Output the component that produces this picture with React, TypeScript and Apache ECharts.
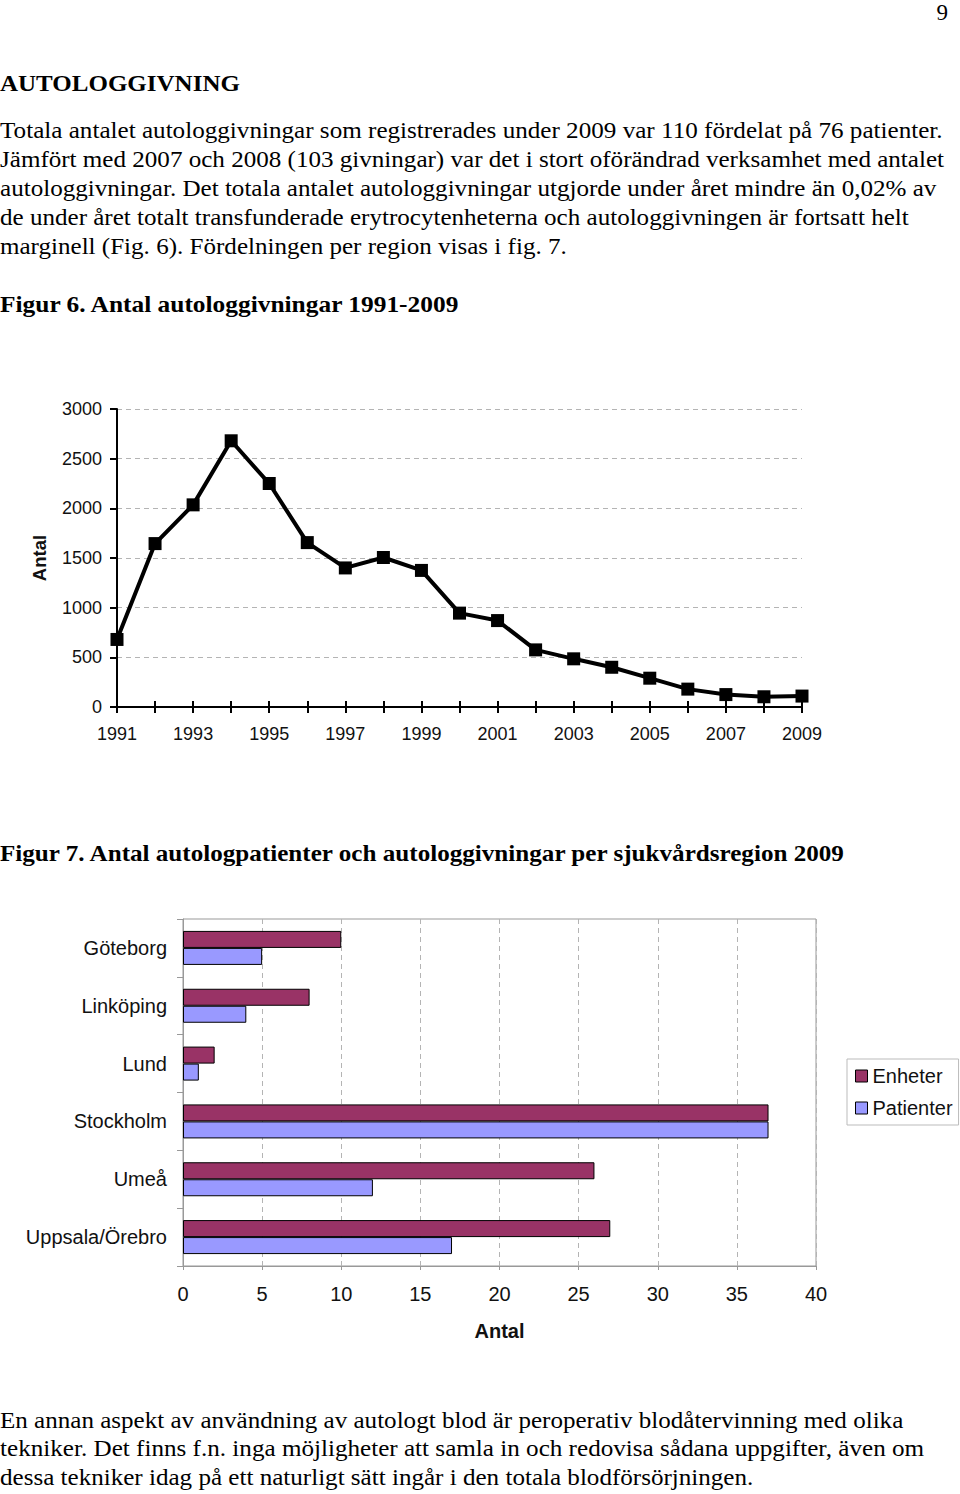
import { useEffect, useRef } from 'react';
import * as echarts from 'echarts';

const PAGE_W = 960;
const PAGE_H = 1494;

// Figur 6: antal autologgivningar per år
const years = [
  '1991', '1992', '1993', '1994', '1995', '1996', '1997', '1998', '1999', '2000',
  '2001', '2002', '2003', '2004', '2005', '2006', '2007', '2008', '2009',
];
const givningar = [
  680, 1645, 2035, 2680, 2250, 1655, 1400, 1505, 1375, 945,
  870, 575, 485, 400, 290, 180, 125, 103, 110,
];

// Figur 7: per sjukvårdsregion 2009
const regions = ['Göteborg', 'Linköping', 'Lund', 'Stockholm', 'Umeå', 'Uppsala/Örebro'];
const enheter = [10, 8, 2, 37, 26, 27];
const patienter = [5, 4, 1, 37, 12, 17];

const SERIF = "'Liberation Serif', 'Times New Roman', serif";
const SANS = "'Liberation Sans', Arial, sans-serif";

// page text: [text, centre y, width to fill, bold]
const pageLines: [string, number, number, boolean][] = [
  ['AUTOLOGGIVNING', 83, 240, true],
  ['Totala antalet autologgivningar som registrerades under 2009 var 110 fördelat på 76 patienter.', 130, 943, false],
  ['Jämfört med 2007 och 2008 (103 givningar) var det i stort oförändrad verksamhet med antalet', 159, 945, false],
  ['autologgivningar. Det totala antalet autologgivningar utgjorde under året mindre än 0,02% av', 188, 937, false],
  ['de under året totalt transfunderade erytrocytenheterna och autologgivningen är fortsatt helt', 217, 909, false],
  ['marginell (Fig. 6). Fördelningen per region visas i fig. 7.', 246, 567, false],
  ['Figur 6. Antal autologgivningar 1991-2009', 304, 461, true],
  ['Figur 7. Antal autologpatienter och autologgivningar per sjukvårdsregion 2009', 853, 847, true],
  ['En annan aspekt av användning av autologt blod är peroperativ blodåtervinning med olika', 1420, 904, false],
  ['tekniker. Det finns f.n. inga möjligheter att samla in och redovisa sådana uppgifter, även om', 1448, 925, false],
  ['dessa tekniker idag på ett naturligt sätt ingår i den totala blodförsörjningen.', 1477, 754, false],
];

function textWidth(text: string, font: string) {
  const ctx = document.createElement('canvas').getContext('2d');
  if (!ctx) return 1;
  ctx.font = font;
  return ctx.measureText(text).width || 1;
}

export default function App() {
  const chartRef = useRef<HTMLDivElement>(null);

  useEffect(() => {
    if (!chartRef.current) return;
    document.body.style.margin = '0';
    const chart = echarts.init(chartRef.current, null, { renderer: 'svg' });

    const fontSize = 23;
    const graphics: any[] = pageLines.map(([text, y, w, bold]) => {
      const weight = bold ? 'bold' : 'normal';
      const measured = textWidth(text, `${weight} ${fontSize}px ${SERIF}`);
      return {
        type: 'text',
        x: 0,
        y,
        scaleX: w / measured,
        style: {
          text,
          fontSize,
          fontFamily: SERIF,
          fontWeight: weight,
          fill: '#000',
          align: 'left',
          verticalAlign: 'middle',
        },
      };
    });
    graphics.push({
      type: 'text',
      x: 948,
      y: 12,
      style: { text: '9', fontSize, fontFamily: SERIF, fill: '#000', align: 'right', verticalAlign: 'middle' },
    });

    const dashed = { color: '#b4b4b4', width: 1, type: [5, 4] as number[] };

    const option: echarts.EChartsOption = {
      animation: false,
      backgroundColor: '#fff',
      textStyle: { fontFamily: SANS },
      graphic: graphics,
      grid: [
        { left: 117, right: PAGE_W - 802, top: 409, bottom: PAGE_H - 707 },
        {
          left: 183, right: PAGE_W - 816, top: 919, bottom: PAGE_H - 1266,
          show: true, borderColor: '#999', borderWidth: 1, backgroundColor: 'transparent',
        },
      ],
      legend: {
        data: ['Enheter', 'Patienter'],
        orient: 'vertical',
        left: 847,
        top: 1059,
        icon: 'rect',
        itemWidth: 12,
        itemHeight: 12,
        itemGap: 12,
        padding: [7, 6, 7, 8],
        borderColor: '#bbb',
        borderWidth: 1,
        textStyle: { fontSize: 20, color: '#111', fontFamily: SANS },
        itemStyle: { borderColor: '#000', borderWidth: 1 },
      },
      xAxis: [
        {
          type: 'category',
          gridIndex: 0,
          data: years,
          boundaryGap: false,
          position: 'bottom',
          axisLine: { lineStyle: { color: '#000', width: 2 } },
          axisTick: { show: true, interval: 0, length: 6, lineStyle: { color: '#000', width: 2 } },
          axisLabel: { interval: 1, fontSize: 18, color: '#111', margin: 18 },
          splitLine: { show: false },
        },
        {
          type: 'category',
          gridIndex: 0,
          data: years,
          boundaryGap: false,
          position: 'bottom',
          axisLine: { show: false },
          axisTick: { show: true, inside: true, interval: 0, length: 6, lineStyle: { color: '#000', width: 2 } },
          axisLabel: { show: false },
          splitLine: { show: false },
        },
        {
          type: 'value',
          gridIndex: 1,
          min: 0,
          max: 40,
          interval: 5,
          axisLine: { show: true, lineStyle: { color: '#999', width: 1 } },
          axisTick: { show: true, length: 4, lineStyle: { color: '#999' } },
          axisLabel: { fontSize: 20, color: '#111', margin: 18 },
          splitLine: { show: true, lineStyle: dashed },
          name: 'Antal',
          nameLocation: 'middle',
          nameGap: 55,
          nameTextStyle: { fontSize: 20, fontWeight: 'bold', color: '#111' },
        },
      ],
      yAxis: [
        {
          type: 'value',
          gridIndex: 0,
          min: 0,
          max: 3000,
          interval: 500,
          axisLine: { show: true, lineStyle: { color: '#000', width: 2 } },
          axisTick: { show: true, length: 7, lineStyle: { color: '#000', width: 2 } },
          axisLabel: { fontSize: 18, color: '#111', margin: 15, formatter: (v: number) => String(v) },
          splitLine: { show: true, lineStyle: dashed },
          name: 'Antal',
          nameLocation: 'middle',
          nameGap: 68,
          nameTextStyle: { fontSize: 18.5, fontWeight: 'bold', color: '#111' },
        },
        {
          type: 'category',
          gridIndex: 1,
          data: regions,
          inverse: true,
          axisLine: { show: true, lineStyle: { color: '#999', width: 1 } },
          axisTick: { show: true, length: 6, lineStyle: { color: '#999' } },
          axisLabel: { fontSize: 20, color: '#111', margin: 16 },
          splitLine: { show: false },
        },
      ],
      series: [
        {
          type: 'line',
          xAxisIndex: 0,
          yAxisIndex: 0,
          data: givningar,
          symbol: 'rect',
          symbolSize: 13,
          lineStyle: { color: '#000', width: 4 },
          itemStyle: { color: '#000' },
          z: 5,
        },
        {
          name: 'Enheter',
          type: 'bar',
          xAxisIndex: 2,
          yAxisIndex: 1,
          data: enheter,
          barWidth: 17,
          barGap: '0%',
          itemStyle: { color: '#993366', borderColor: '#000', borderWidth: 1 },
        },
        {
          name: 'Patienter',
          type: 'bar',
          xAxisIndex: 2,
          yAxisIndex: 1,
          data: patienter,
          barWidth: 17,
          barGap: '0%',
          itemStyle: { color: '#9999ff', borderColor: '#000', borderWidth: 1 },
        },
      ],
    };

    chart.setOption(option);
    return () => chart.dispose();
  }, []);

  return <div ref={chartRef} style={{ width: PAGE_W, height: PAGE_H }} />;
}
